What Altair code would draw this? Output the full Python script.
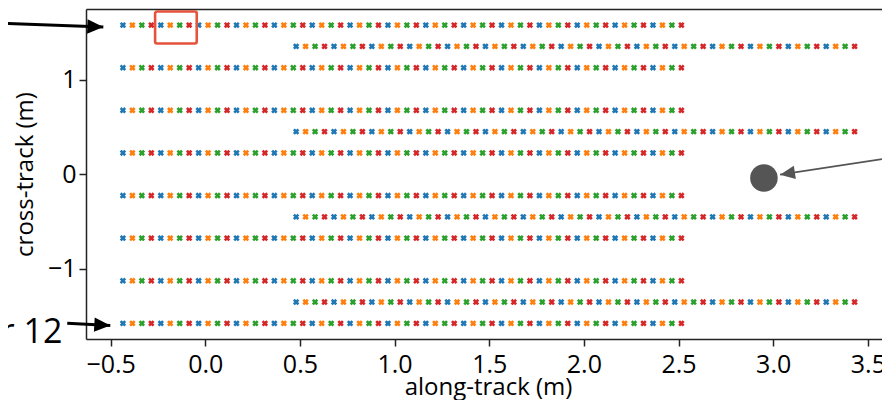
import math
import altair as alt
import pandas as pd

# ---- data ----
row_y = [1.575, 1.35, 1.125, 0.675, 0.45, 0.225,
         -0.225, -0.45, -0.675, -1.125, -1.35, -1.575]
row_shifted = [False, True, False, False, True, False,
               False, True, False, False, True, False]

x_long = [-0.435, -0.385, -0.335, -0.285, -0.235, -0.185, -0.135, -0.085, -0.035, 0.015,
          0.065, 0.115, 0.165, 0.215, 0.265, 0.315, 0.365, 0.415, 0.465, 0.515,
          0.565, 0.615, 0.665, 0.715, 0.765, 0.815, 0.865, 0.915, 0.965, 1.015,
          1.065, 1.115, 1.165, 1.215, 1.265, 1.315, 1.365, 1.415, 1.465, 1.515,
          1.565, 1.615, 1.665, 1.715, 1.765, 1.815, 1.865, 1.915, 1.965, 2.015,
          2.065, 2.115, 2.165, 2.215, 2.265, 2.315, 2.365, 2.415, 2.465, 2.515]
x_shift = [0.48, 0.53, 0.58, 0.63, 0.68, 0.73, 0.78, 0.83, 0.88, 0.93,
           0.98, 1.03, 1.08, 1.13, 1.18, 1.23, 1.28, 1.33, 1.38, 1.43,
           1.48, 1.53, 1.58, 1.63, 1.68, 1.73, 1.78, 1.83, 1.88, 1.93,
           1.98, 2.03, 2.08, 2.13, 2.18, 2.23, 2.28, 2.33, 2.38, 2.43,
           2.48, 2.53, 2.58, 2.63, 2.68, 2.73, 2.78, 2.83, 2.88, 2.93,
           2.98, 3.03, 3.08, 3.13, 3.18, 3.23, 3.28, 3.33, 3.38, 3.43]

phase_colors = ["#1f77b4", "#ff7f0e", "#2ca02c", "#d62728"]

# annotations (data units)
box_x = [-0.265]
box_x2 = [-0.045]
box_y = [1.38]
box_y2 = [1.718]

arrow_tail_x = [-1.40, -0.729, 3.90]
arrow_tail_y = [1.62, -1.573, 0.26]
arrow_tip_x = [-0.5385, -0.5016, 3.036]
arrow_tip_y = [1.554, -1.598, -0.005]
arrow_color = ["#000000", "#000000", "#555555"]
arrow_width = [3.0, 3.0, 1.8]
arrow_head = [1024, 1024, 900]

circle_x = [2.951]
circle_y = [-0.04]

label_text = ["Transducer 12"]
label_x = [-0.755]
label_y = [-1.784]

x_ticks = [-0.5, 0.0, 0.5, 1.0, 1.5, 2.0, 2.5, 3.0, 3.5]
y_ticks = [-1, 0, 1]

x_dom = [-0.63, 3.617]
y_dom = [-1.74, 1.745]
RANGE_W = 804          # the axes run on past the right edge of the picture
W, H = 796, 330
FONT = "Open Sans"

# ---- tables ----
rows = []
for yv, sh in zip(row_y, row_shifted):
    xs = x_shift if sh else x_long
    for i, xv in enumerate(xs):
        rows.append({"x": xv, "y": yv, "phase": str(i % 4)})
pts = pd.DataFrame(rows)

kx = RANGE_W / (x_dom[1] - x_dom[0])
ky = H / (y_dom[1] - y_dom[0])
angs = []
for tx, ty, hx, hy in zip(arrow_tail_x, arrow_tail_y, arrow_tip_x, arrow_tip_y):
    a = math.degrees(math.atan2(-(hy - ty) * ky, (hx - tx) * kx)) % 360
    angs.append(a)
arrows = pd.DataFrame({
    "tx": arrow_tail_x, "ty": arrow_tail_y,
    "hx": arrow_tip_x, "hy": arrow_tip_y,
    "c": arrow_color, "w": arrow_width, "s": arrow_head, "ang": angs,
})
box = pd.DataFrame({"x": box_x, "x2": box_x2, "y": box_y, "y2": box_y2})
circ = pd.DataFrame({"x": circle_x, "y": circle_y})
lab = pd.DataFrame({"x": label_x, "y": label_y, "t": label_text})

xs_ = alt.Scale(domain=x_dom, range=[0, RANGE_W], nice=False, zero=False)
ys_ = alt.Scale(domain=y_dom, nice=False, zero=False)

scatter = alt.Chart(pts).mark_point(
    shape="cross", angle=45, filled=True, size=42, opacity=1
).encode(
    x=alt.X("x:Q", scale=xs_, title="along-track (m)",
            axis=alt.Axis(values=x_ticks, format=".1f", orient="bottom",
                          titleBaseline="alphabetic", titleY=55, titleX=402)),
    y=alt.Y("y:Q", scale=ys_, title="cross-track (m)",
            axis=alt.Axis(values=y_ticks, format="d",
                          titleBaseline="alphabetic", titleX=-54, titleY=165)),
    color=alt.Color("phase:N", scale=alt.Scale(domain=["0", "1", "2", "3"], range=phase_colors),
                    legend=None),
)

boxl = alt.Chart(box).mark_rect(
    filled=False, stroke="#e5533d", strokeWidth=2.6, cornerRadius=2
).encode(
    x=alt.X("x:Q", scale=xs_,
            axis=alt.Axis(orient="top", labels=False, ticks=False, title=None, domain=True)),
    x2="x2:Q",
    y=alt.Y("y:Q", scale=ys_, title="cross-track (m)"),
    y2="y2:Q",
)

rules = alt.Chart(arrows).mark_rule(strokeCap="butt").encode(
    x=alt.X("tx:Q", scale=xs_, axis=None),
    y=alt.Y("ty:Q", scale=ys_, title="cross-track (m)"),
    x2="hx:Q", y2="hy:Q",
    color=alt.Color("c:N", scale=None),
    strokeWidth=alt.StrokeWidth("w:Q", scale=None),
)

heads = alt.Chart(arrows).mark_point(
    shape="M0,0L-1,-0.45L-1,0.45Z", filled=True, opacity=1
).encode(
    x=alt.X("hx:Q", scale=xs_, axis=None),
    y=alt.Y("hy:Q", scale=ys_, title="cross-track (m)"),
    color=alt.Color("c:N", scale=None),
    size=alt.Size("s:Q", scale=None),
    angle=alt.Angle("ang:Q", scale=None),
)

circl = alt.Chart(circ).mark_circle(size=760, color="#555555", opacity=1).encode(
    x=alt.X("x:Q", scale=xs_, axis=None),
    y=alt.Y("y:Q", scale=ys_, title="cross-track (m)"),
)

text = alt.Chart(lab).mark_text(
    align="right", baseline="alphabetic", fontSize=34, font=FONT, color="black"
).encode(
    x=alt.X("x:Q", scale=xs_, axis=None),
    y=alt.Y("y:Q", scale=ys_, title="cross-track (m)"),
    text="t:N",
)

chart = alt.layer(scatter, boxl, rules, heads, circl, text).resolve_axis(
    x="independent"
).properties(
    width=W, height=H,
    autosize=alt.AutoSizeParams(type="none"),
    padding={"left": 78, "top": 1, "right": 0, "bottom": 61},
).configure_view(stroke=None).configure_axis(
    grid=False,
    domainColor="#222222", domainWidth=1.5,
    tickColor="#222222", tickWidth=1.5, tickSize=7,
    labelFont=FONT, labelFontSize=25, labelColor="black",
    titleFont=FONT, titleFontSize=24, titleFontWeight="normal", titleColor="black",
).configure_axisY(labelPadding=3).configure_axisX(labelPadding=6)

chart.save("out.html", embed_options={"renderer": "svg", "actions": False})
